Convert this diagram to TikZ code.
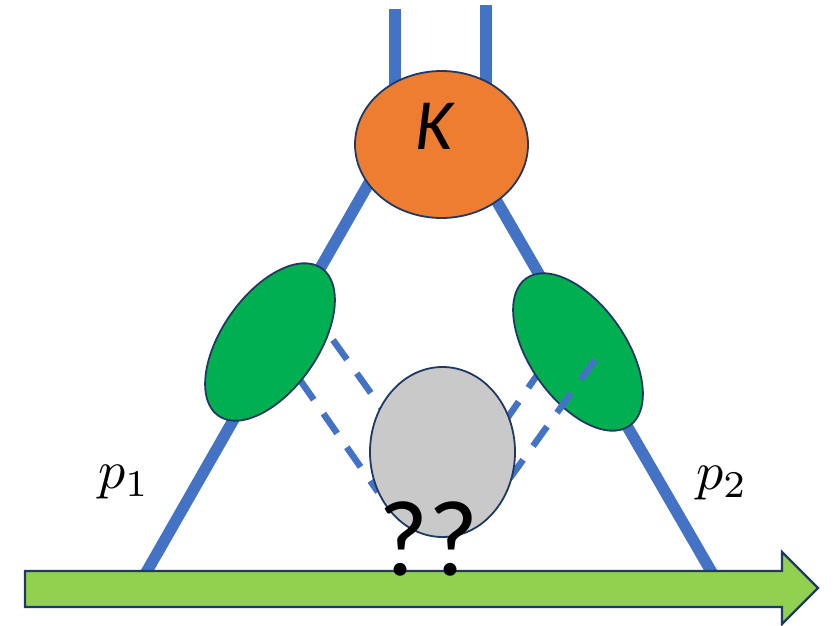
\documentclass[tikz,border=0pt]{standalone}
\usepackage{fontspec}
\newfontfamily\carl{Carlito}
\usetikzlibrary{shapes.geometric}
\definecolor{lineblue}{HTML}{4472C4}
\definecolor{kor}{HTML}{ED7D31}
\definecolor{blobgreen}{HTML}{00B050}
\definecolor{blobgrey}{HTML}{C9C9C9}
\definecolor{arrowgreen}{HTML}{92D050}
\definecolor{navy}{HTML}{1F3864}
\tikzset{
  leg/.style={draw=lineblue, line width=11.5pt},
  dashleg/.style={draw=lineblue, line width=6.5pt, dash pattern=on 24pt off 17pt},
  blob/.style={ellipse, draw=navy, line width=1.8pt, inner sep=0pt},
  plabel/.style={scale=5.4, inner sep=0pt},
}
\begin{document}
\begin{tikzpicture}[x=1pt,y=-1pt]
\useasboundingbox (0,0) rectangle (836,626);
% coordinates
\coordinate (vl1) at (395,9);
\coordinate (vl2) at (395,150);
\coordinate (vr1) at (486,5);
\coordinate (vr2) at (486,150);
\coordinate (kl) at (385,155);
\coordinate (kr) at (470,155);
\coordinate (bl) at (143,578);
\coordinate (br) at (715,578);
% solid legs
\draw[leg] (vl1) -- (vl2);
\draw[leg] (vr1) -- (vr2);
\draw[leg] (kl) -- (bl);
\draw[leg] (kr) -- (br);
% dashed lines behind
\coordinate (d1a) at (333,340);
\coordinate (d1b) at (383,410);
\coordinate (d2a) at (300,380);
\coordinate (d2b) at (378,492);
\coordinate (d3a) at (542,368);
\coordinate (d3b) at (506,420);
\coordinate (d4a) at (595,360);
\coordinate (d4b) at (510,478);
\draw[dashleg] (d1a) -- (d1b);
\draw[dashleg] (d2a) -- (d2b);
\draw[dashleg] (d3a) -- (d3b);
% green blobs
\node[blob, fill=blobgreen, rotate=55, minimum width=180pt, minimum height=96pt] (gl) at (270,342) {};
\node[blob, fill=blobgreen, rotate=-55, minimum width=180pt, minimum height=96pt] (gr) at (578,352) {};
\draw[dashleg] (d4a) -- (d4b);
% grey blob
\node[blob, fill=blobgrey, minimum width=145pt, minimum height=170pt] (gy) at (442.5,452) {};
% K blob
\node[blob, fill=kor, minimum width=173pt, minimum height=147pt] (kb) at (441.5,144.5) {};
\node (ktext) at (434,126.5) {\carl\itshape\fontsize{72}{80}\selectfont K};
% arrow
\draw[draw=navy, line width=2.2pt, fill=arrowgreen, line join=miter]
  (25,571) -- (782,571) -- (782,552) -- (818,588) -- (782,624) -- (782,607) -- (25,607) -- cycle;
% labels
\node[plabel] (p1) at (124,482) {$p_1$};
\node[plabel] (p2) at (722,483) {$p_2$};
\node[inner sep=0pt] (qq) at (429,539) {\carl\fontsize{108}{120}\selectfont ??};
\end{tikzpicture}
\end{document}
